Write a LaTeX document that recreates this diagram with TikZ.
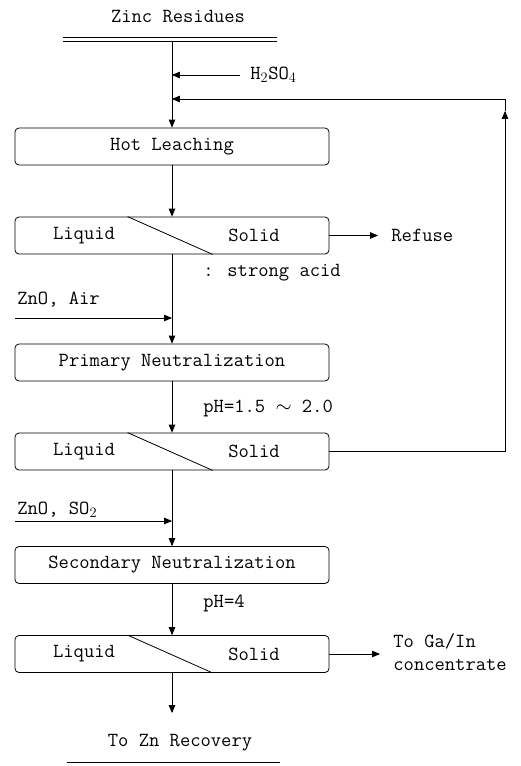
\documentclass[tikz,border=0pt]{standalone}
\usepackage{fontspec}
\usepackage{tikz}
\usetikzlibrary{arrows}

\newcommand{\flowfont}{\ttfamily\fontsize{20}{23}\selectfont}

\begin{document}
\begin{tikzpicture}[x=1pt,y=-1pt,line width=0.8pt,>=triangle 45,
  box/.style={draw,rounded corners=4pt,minimum width=314pt,minimum height=37pt,inner sep=0pt,font=\flowfont},
  lbl/.style={inner sep=0pt,font=\flowfont}]
\useasboundingbox (0,0) rectangle (520,766);

    % feed
    \node[lbl] (zinc) at (178,17) {Zinc Residues};
    \draw (63,37) -- (277,37);
    \draw (63,41) -- (277,41);
    \coordinate (feed) at (172,41);

    % process steps
    \node[box] (hot)  at (172,146.5) {Hot Leaching};
    \node[box] (sep1) at (172,235.5) {};
    \node[box] (prim) at (172,362.5) {Primary Neutralization};
    \node[box] (sep2) at (172,451.5) {};
    \node[box] (sec)  at (172,565)   {Secondary Neutralization};
    \node[box] (sep3) at (172,654)   {};

    \foreach \s in {sep1,sep2,sep3}{
        \draw ([xshift=113pt]\s.north west) -- ([xshift=198pt]\s.south west);
        \node[lbl] (\s-liq) at ([xshift=-88pt]\s.center) {Liquid};
        \node[lbl] (\s-sol) at ([xshift=82pt]\s.center) {Solid};
    }

    % reagents
    \node[lbl,anchor=west] (acid) at (250,75) {H$_2$SO$_4$};
    \draw[->] ([xshift=-10pt]acid.west) -- (acid.west -| feed);
    \node[lbl,anchor=west] (strong) at (203,273) {: strong acid};
    \node[lbl,anchor=west] (zna) at (17,300) {ZnO, Air};
    \coordinate (znain) at (15,318);
    \draw[->] (znain) -- (znain -| feed);
    \node[lbl,anchor=west] (ph1) at (203,408) {pH=1.5 $\sim$ 2.0};
    \node[lbl,anchor=west] (zns) at (17,510) {ZnO, SO$_2$};
    \coordinate (znsin) at (15,521);
    \draw[->] (znsin) -- (znsin -| feed);
    \node[lbl,anchor=west] (ph2) at (203,603) {pH=4};

    % main line
    \draw[->] (feed) -- (hot);
    \draw[->] (hot) -- (sep1);
    \draw[->] (sep1) -- (prim);
    \draw[->] (prim) -- (sep2);
    \draw[->] (sep2) -- (sec);
    \draw[->] (sec) -- (sep3);

    % recycle of solids
    \coordinate (rc) at (505,99);
    \draw[->] (sep2.east) -| ([yshift=-12pt]rc);
    \draw[->] ([yshift=-12pt]rc) -- (rc) -- (rc -| feed);

    % products
    \node[lbl,anchor=west] (refuse) at (391,235.5) {Refuse};
    \draw[->] (sep1.east) -- ([xshift=-13pt]refuse.west);
    \node[lbl,anchor=west,align=left] (gain) at (393,652) {To Ga/In\\concentrate};
    \draw[->] (sep3.east) -- ([xshift=-13pt]gain.west |- sep3.east);
    \coordinate (out) at (172,713);
    \draw[->] (sep3) -- (out);
    \node[lbl] (zn) at (180,743) {To Zn Recovery};
    \draw (67,762) -- (280,762);
\end{tikzpicture}
\end{document}
